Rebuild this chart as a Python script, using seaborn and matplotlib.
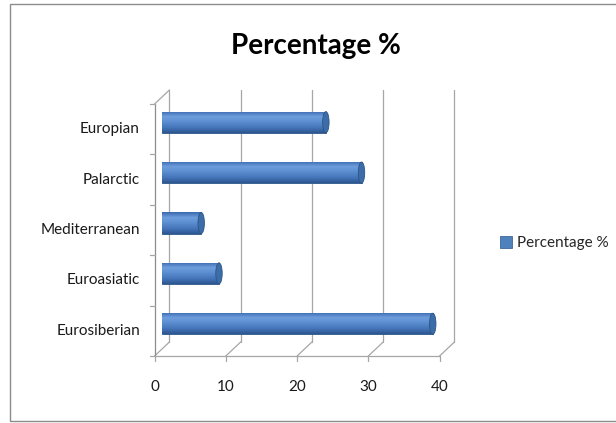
import matplotlib
matplotlib.use("Agg")
import numpy as np
import pandas as pd
import matplotlib.pyplot as plt
import seaborn as sns
from matplotlib.patches import Rectangle, Ellipse, Patch
from matplotlib.colors import LinearSegmentedColormap

# data
regions = ["Europian", "Palarctic", "Mediterranean", "Euroasiatic", "Eurosiberian"]
percent = [23, 28, 5.5, 8, 38]
x_ticks = [0, 10, 20, 30, 40]
title = "Percentage %"
series_name = "Percentage %"

sns.set_theme(style="white")
plt.rcParams["font.family"] = ["Lato", "DejaVu Sans"]

W, H = 616, 423
fig = plt.figure(figsize=(W / 100, H / 100), dpi=100)
fig.patch.set_facecolor("white")
ax = fig.add_axes([162 / W, 1 - 349 / H, 285 / W, 252 / H])

df = pd.DataFrame({"region": regions, "pct": percent})
sns.barplot(data=df, x="pct", y="region", orient="h", width=0.42,
            color="#4F81BD", saturation=1, ax=ax, zorder=3)

# cylinder look for each bar
cyl = LinearSegmentedColormap.from_list(
    "cyl", ["#3A6AAE", "#6E9EDC", "#5A8CD0", "#4576BA", "#2C5690"])
grad = np.linspace(0, 1, 64).reshape(-1, 1)
for p in list(ax.patches):
    x0, y0, w, h = p.get_x(), p.get_y(), p.get_width(), p.get_height()
    p.set_edgecolor("#2B5486")
    p.set_linewidth(0.6)
    im = ax.imshow(grad, extent=[x0, x0 + w, y0 + h, y0], origin="upper",
                   aspect="auto", cmap=cyl, zorder=4, interpolation="bilinear")
    im.set_clip_path(p)
    ax.add_patch(Ellipse((x0 + w, y0 + h / 2), 0.9, h, facecolor="#3D6DA8",
                         edgecolor="#2B5486", lw=0.6, zorder=5))

ax.set_xlim(0, 40)
ax.set_ylim(4.5, -0.5)
ax.axis("off")

# pseudo 3D walls and floor
dx, dy = 1.05, 0.14
gc = "#A6A6A6"
kw = dict(color=gc, lw=0.9, clip_on=False, zorder=1)
for t in x_ticks:
    ax.plot([t + dx, t + dx], [-0.5 - dy, 4.5 - dy], **kw)
    ax.plot([t - dx, t + dx], [4.5 + dy, 4.5 - dy], **kw)
    ax.plot([t - dx, t - dx], [4.5 + dy, 4.5 + dy + 0.1], **kw)
    ax.text(t - dx, 4.5 + dy + 0.62, str(t), ha="center", va="center",
            fontsize=11, color="#1A1A1A")
ax.plot([-dx, -dx], [-0.5 + dy, 4.5 + dy], color="#8C8C8C", lw=0.9, clip_on=False, zorder=1)
ax.plot([-dx, dx], [-0.5 + dy, -0.5 - dy], **kw)
ax.plot([-dx, x_ticks[-1] - dx], [4.5 + dy, 4.5 + dy], **kw)
for k in range(len(regions) + 1):
    ax.plot([-dx, -dx - 0.7], [k - 0.5 + dy, k - 0.5 + dy], **kw)

for i, name in enumerate(regions):
    ax.text(-3.1, i + dy, name, ha="right", va="center", fontsize=11, color="#1A1A1A")

# title, legend, chart frame
fig.text(316 / W, 1 - 46 / H, title, ha="center", va="center",
         fontsize=20, fontweight="bold", color="black")
fig.legend(handles=[Patch(facecolor="#4F81BD", edgecolor="#2B5486", lw=0.5, label=series_name)],
           loc="center left", bbox_to_anchor=(486 / W, 1 - 243 / H), frameon=False,
           fontsize=11, handlelength=0.8, handleheight=0.8, handletextpad=0.3)
fig.add_artist(Rectangle((10 / W, 1 - 421 / H), 1.0, (421 - 4) / H,
                         transform=fig.transFigure, fill=False,
                         edgecolor="#8C8C8C", lw=1))

fig.savefig("out.png", dpi=100)
